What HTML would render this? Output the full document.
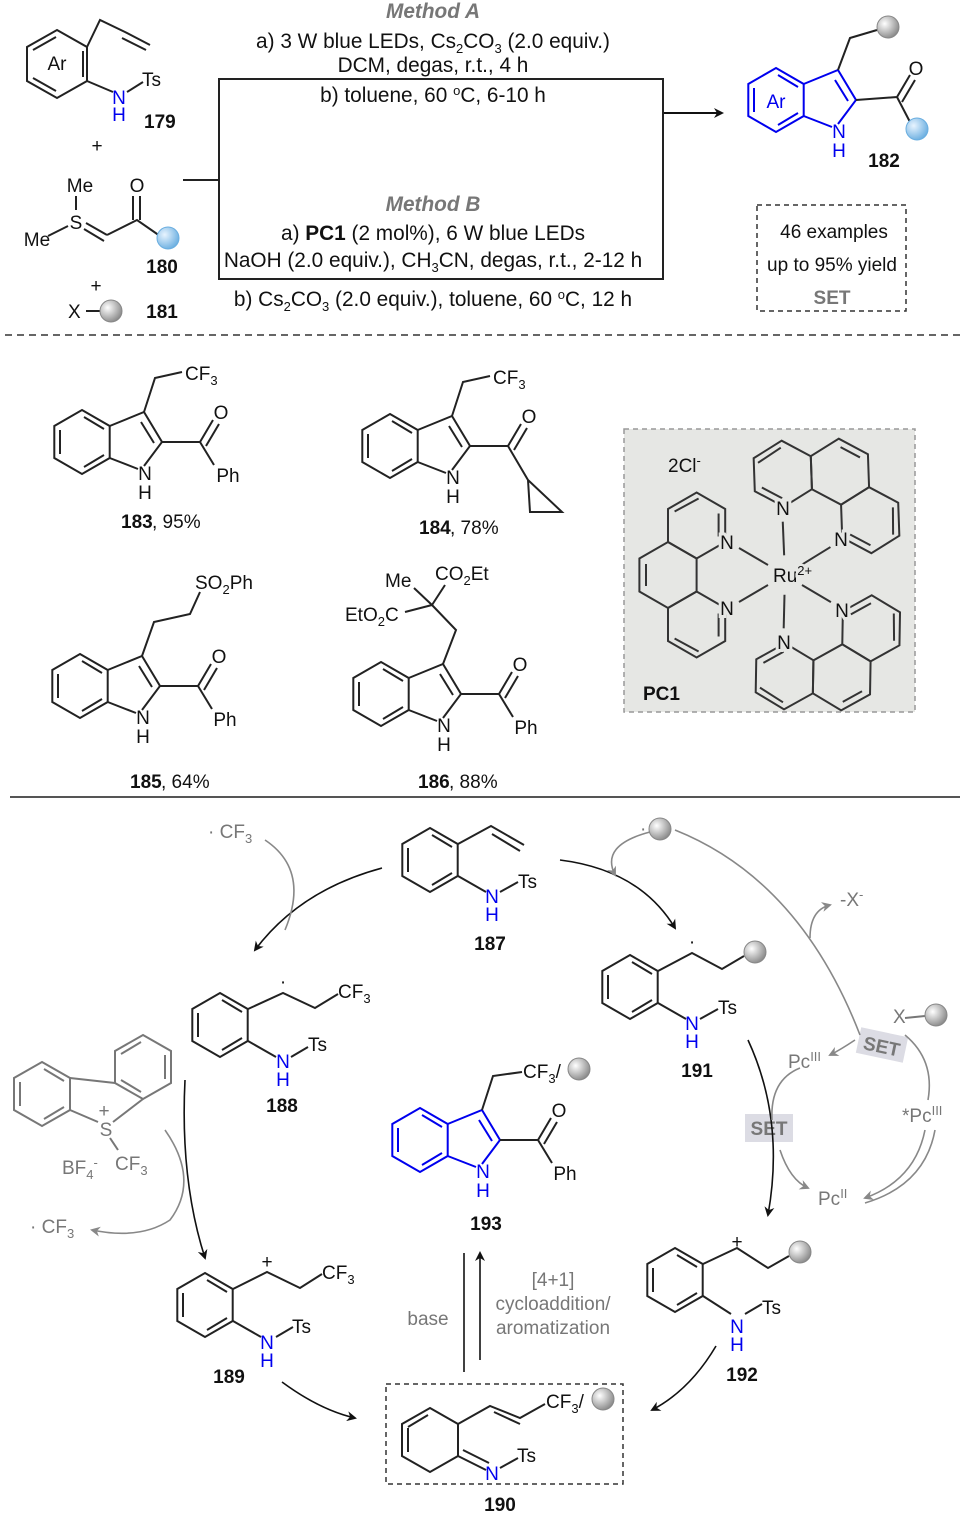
<!DOCTYPE html>
<html><head><meta charset="utf-8"><style>
html,body{margin:0;padding:0;background:#fff}
svg{display:block}
text{font-family:"Liberation Sans",Arial,sans-serif;font-size:19px;fill:#111}
.b{font-weight:bold}
.g{fill:#777}
.bl{fill:#0000ee}
.m{text-anchor:middle}
.t{font-size:20.8px}
.pn{paint-order:stroke;stroke:#e6e7e4;stroke-width:6px;text-anchor:middle}
</style></head><body>
<svg width="965" height="1515" viewBox="0 0 965 1515" xmlns="http://www.w3.org/2000/svg">
<defs>
<g id="bz" fill="none" stroke="#222" stroke-width="2">
<polygon points="0,-32 27.7,-16 27.7,16 0,32 -27.7,16 -27.7,-16"/>
<line x1="2" y1="-25" x2="22" y2="-13"/><line x1="22" y1="13" x2="2" y2="25"/><line x1="-22" y1="12" x2="-22" y2="-12"/>
</g>
<g id="bzb" fill="none" stroke="#0000ee" stroke-width="2">
<polygon points="0,-32 27.7,-16 27.7,16 0,32 -27.7,16 -27.7,-16"/>
<line x1="2" y1="-25" x2="22" y2="-13"/><line x1="22" y1="13" x2="2" y2="25"/><line x1="-22" y1="12" x2="-22" y2="-12"/>
</g>
<g id="ind">
<use href="#bz"/>
<polyline points="27.7,-16 62,-30 80,0 62,24" fill="none" stroke="#222" stroke-width="2"/>
<line x1="27.7" y1="16" x2="56" y2="27" stroke="#222" stroke-width="2"/>
<line x1="59" y1="-20" x2="72" y2="1" stroke="#222" stroke-width="2"/>
<text x="63" y="38" class="m">N</text><text x="63" y="57" class="m">H</text>
</g>
<g id="indb">
<use href="#bzb"/>
<polyline points="27.7,-16 62,-30 80,0 62,24" fill="none" stroke="#0000ee" stroke-width="2"/>
<line x1="27.7" y1="16" x2="56" y2="27" stroke="#0000ee" stroke-width="2"/>
<line x1="59" y1="-20" x2="72" y2="1" stroke="#0000ee" stroke-width="2"/>
<text x="63" y="38" class="m bl">N</text><text x="63" y="57" class="m bl">H</text>
</g>
<g id="phen" fill="none" stroke="#333" stroke-width="2">
<g transform="translate(0,-117)">
<polygon points="33,0 16.5,28.6 -16.5,28.6 -33,0 -16.5,-28.6 16.5,-28.6"/>
<line x1="-11" y1="-22" x2="11" y2="-22"/>
<g transform="translate(-49.5,28.6)"><polygon points="33,0 16.5,28.6 -16.5,28.6 -33,0 -16.5,-28.6 16.5,-28.6"/><line x1="-27" y1="2" x2="-14" y2="-22"/><line x1="-12" y1="22" x2="11" y2="22"/></g>
<g transform="translate(49.5,28.6)"><polygon points="33,0 16.5,28.6 -16.5,28.6 -33,0 -16.5,-28.6 16.5,-28.6"/><line x1="27" y1="2" x2="14" y2="-22"/><line x1="12" y1="22" x2="-11" y2="22"/></g>
</g>
<line x1="-10" y1="-17" x2="-27" y2="-46"/><line x1="10" y1="-17" x2="27" y2="-46"/>
</g>
<radialGradient id="gb" cx="35%" cy="35%" r="70%"><stop offset="0" stop-color="#fff"/><stop offset="1" stop-color="#888"/></radialGradient>
<radialGradient id="bb" cx="35%" cy="35%" r="70%"><stop offset="0" stop-color="#e8f4ff"/><stop offset="1" stop-color="#6aaee0"/></radialGradient>
<marker id="ah" markerWidth="10" markerHeight="10" refX="8" refY="5" orient="auto" markerUnits="userSpaceOnUse"><path d="M0,0 L10,5 L0,10 L3,5z" fill="#111"/></marker>
<marker id="ahg" markerWidth="10" markerHeight="10" refX="8" refY="5" orient="auto" markerUnits="userSpaceOnUse"><path d="M0,0 L10,5 L0,10 L3,5z" fill="#888"/></marker>
</defs>

<g stroke="#222" stroke-width="2" fill="none">
<polygon points="57,30 87,47 87,81 57,98 27,81 27,47"/>
<line x1="83" y1="51" x2="83" y2="77"/><line x1="56" y1="37" x2="33" y2="50"/><line x1="56" y1="91" x2="33" y2="78"/>
<polyline points="87,47 100,20 125,32 150,45"/><line x1="122" y1="38" x2="146" y2="50"/>
<line x1="87" y1="81" x2="113" y2="92"/><line x1="127" y1="92" x2="143" y2="82"/>
<line x1="76" y1="196" x2="76" y2="210"/><line x1="48" y1="236" x2="68" y2="226"/>
<line x1="86" y1="223" x2="107" y2="235"/><line x1="84" y1="229" x2="104" y2="241"/>
<polyline points="107,235 137,220 160,236"/><line x1="133" y1="196" x2="133" y2="220"/><line x1="140" y1="196" x2="140" y2="220"/>
<line x1="86" y1="311" x2="100" y2="311"/>
<rect x="219" y="79" width="444" height="200"/>
<line x1="183" y1="180" x2="219" y2="180"/>
</g>
<line x1="664" y1="113" x2="722" y2="113" stroke="#111" stroke-width="2" marker-end="url(#ah)"/>
<text x="57" y="70" class="m">Ar</text>
<text x="119" y="104" class="m bl">N</text><text x="119" y="121" class="m bl">H</text>
<text x="142" y="86">Ts</text>
<text x="144" y="128" class="b">179</text>
<text x="97" y="152" class="m">+</text>
<text x="80" y="192" class="m">Me</text><text x="37" y="246" class="m">Me</text><text x="76" y="229" class="m">S</text>
<text x="137" y="192" class="m">O</text>
<circle cx="168" cy="238" r="11" fill="url(#bb)" stroke="#6aaee0"/>
<text x="162" y="273" class="b m">180</text>
<text x="96" y="292" class="m">+</text>
<text x="68" y="318">X</text>
<circle cx="111" cy="311" r="11" fill="url(#gb)" stroke="#888"/>
<text x="162" y="318" class="b m">181</text>

<text x="433" y="18" class="m b g t" font-style="italic">Method A</text>
<text x="433" y="48" class="m t">a) 3 W blue LEDs, Cs<tspan font-size="13" dy="5">2</tspan><tspan dy="-5">CO</tspan><tspan font-size="13" dy="5">3</tspan><tspan dy="-5"> (2.0 equiv.)</tspan></text>
<text x="433" y="72" class="m t">DCM, degas, r.t., 4 h</text>
<text x="433" y="102" class="m t">b) toluene, 60 <tspan font-size="13" dy="-7">o</tspan><tspan dy="7">C, 6-10 h</tspan></text>
<text x="433" y="211" class="m b g t" font-style="italic">Method B</text>
<text x="433" y="240" class="m t">a) <tspan font-weight="bold">PC1</tspan> (2 mol%), 6 W blue LEDs</text>
<text x="433" y="267" class="m t">NaOH (2.0 equiv.), CH<tspan font-size="13" dy="5">3</tspan><tspan dy="-5">CN, degas, r.t., 2-12 h</tspan></text>
<text x="433" y="306" class="m t">b) Cs<tspan font-size="13" dy="5">2</tspan><tspan dy="-5">CO</tspan><tspan font-size="13" dy="5">3</tspan><tspan dy="-5"> (2.0 equiv.), toluene, 60 </tspan><tspan font-size="13" dy="-7">o</tspan><tspan dy="7">C, 12 h</tspan></text>

<g transform="translate(776,100)"><use href="#indb"/></g>
<text x="776" y="108" class="m bl">Ar</text>
<g stroke="#222" stroke-width="2" fill="none"><polyline points="838,70 850,38 877,30"/><polyline points="856,100 897,97 910,75"/><line x1="902" y1="102" x2="915" y2="80"/><line x1="897" y1="97" x2="910" y2="122"/></g>
<circle cx="888" cy="27" r="11" fill="url(#gb)" stroke="#888"/>
<circle cx="917" cy="129" r="11" fill="url(#bb)" stroke="#6aaee0"/>
<text x="916" y="75" class="m">O</text>
<text x="884" y="167" class="b m">182</text>
<rect x="757" y="205" width="149" height="106" fill="none" stroke="#333" stroke-width="1.5" stroke-dasharray="5,4"/>
<text x="834" y="238" class="m">46 examples</text>
<text x="832" y="271" class="m">up to 95% yield</text>
<text x="832" y="304" class="m b g">SET</text>
<line x1="5" y1="335" x2="960" y2="335" stroke="#333" stroke-width="1.5" stroke-dasharray="7,5"/>

<g transform="translate(82,442)"><use href="#ind"/></g>
<g stroke="#222" stroke-width="2" fill="none"><polyline points="144,412 155,378 182,372"/><polyline points="162,442 200,442 213,420"/><line x1="206" y1="446" x2="219" y2="424"/><line x1="200" y1="442" x2="214" y2="465"/></g>
<text x="185" y="380">CF<tspan font-size="13" dy="5">3</tspan></text><text x="221" y="419" class="m">O</text><text x="228" y="482" class="m">Ph</text>
<text x="121" y="528" class="b">183</text><text x="152" y="528">, 95%</text>
<g transform="translate(390,446)"><use href="#ind"/></g>
<g stroke="#222" stroke-width="2" fill="none"><polyline points="452,416 463,382 490,376"/><polyline points="470,446 508,446 521,424"/><line x1="514" y1="450" x2="527" y2="428"/><polyline points="508,446 528,480 562,512 530,512 528,480"/></g>
<text x="493" y="384">CF<tspan font-size="13" dy="5">3</tspan></text><text x="529" y="423" class="m">O</text>
<text x="419" y="534" class="b">184</text><text x="450" y="534">, 78%</text>
<g transform="translate(80,686)"><use href="#ind"/></g>
<g stroke="#222" stroke-width="2" fill="none"><polyline points="142,656 154,622 190,614 200,592"/><polyline points="160,686 198,686 211,664"/><line x1="204" y1="690" x2="217" y2="668"/><line x1="198" y1="686" x2="212" y2="709"/></g>
<text x="195" y="589">SO<tspan font-size="13" dy="5">2</tspan><tspan dy="-5">Ph</tspan></text><text x="219" y="663" class="m">O</text><text x="225" y="726" class="m">Ph</text>
<text x="130" y="788" class="b">185</text><text x="161" y="788">, 64%</text>
<g transform="translate(381,694)"><use href="#ind"/></g>
<g stroke="#222" stroke-width="2" fill="none"><polyline points="443,664 456,630 432,605"/><line x1="432" y1="605" x2="445" y2="585"/><line x1="432" y1="605" x2="414" y2="588"/><line x1="432" y1="605" x2="405" y2="612"/><polyline points="461,694 499,694 512,672"/><line x1="505" y1="698" x2="518" y2="676"/><line x1="499" y1="694" x2="513" y2="717"/></g>
<text x="385" y="587">Me</text><text x="435" y="580">CO<tspan font-size="13" dy="5">2</tspan><tspan dy="-5">Et</tspan></text>
<text x="345" y="621">EtO<tspan font-size="13" dy="5">2</tspan><tspan dy="-5">C</tspan></text>
<text x="520" y="671" class="m">O</text><text x="526" y="734" class="m">Ph</text>
<text x="418" y="788" class="b">186</text><text x="449" y="788">, 88%</text>

<rect x="624" y="429" width="291" height="283" fill="#e6e7e4" stroke="#999" stroke-width="1.5" stroke-dasharray="5,4"/>
<text x="668" y="472">2Cl<tspan font-size="13" dy="-7">-</tspan></text>
<g transform="translate(785,575)">
<g transform="rotate(-90)"><use href="#phen"/></g>
<g transform="rotate(28)"><use href="#phen"/></g>
<g transform="rotate(151)"><use href="#phen"/></g>
</g>
<text x="727" y="549" class="pn">N</text><text x="727" y="615" class="pn">N</text>
<text x="783" y="515" class="pn">N</text><text x="841" y="546" class="pn">N</text>
<text x="842" y="617" class="pn">N</text><text x="784" y="649" class="pn">N</text>
<text x="773" y="582" style="paint-order:stroke;stroke:#e6e7e4;stroke-width:5px">Ru<tspan font-size="13" dy="-7">2+</tspan></text>
<text x="643" y="700" class="b">PC1</text>
<line x1="10" y1="797" x2="960" y2="797" stroke="#555" stroke-width="2"/>

<g transform="translate(430,860)"><use href="#bz"/></g>
<g stroke="#222" stroke-width="2" fill="none"><polyline points="458,844 491,826 524,845"/><line x1="492" y1="834" x2="520" y2="851"/><line x1="458" y1="876" x2="486" y2="892"/><line x1="500" y1="892" x2="518" y2="882"/></g>
<text x="492" y="903" class="m bl">N</text><text x="492" y="921" class="m bl">H</text><text x="518" y="888">Ts</text>
<text x="490" y="950" class="b m">187</text>
<g transform="translate(220,1025)"><use href="#bz"/></g>
<g stroke="#222" stroke-width="2" fill="none"><polyline points="248,1009 283,993 315,1008 338,994"/><line x1="248" y1="1041" x2="276" y2="1057"/><line x1="291" y1="1057" x2="308" y2="1047"/></g>
<text x="283" y="988" class="m">·</text><text x="338" y="998">CF<tspan font-size="13" dy="5">3</tspan></text>
<text x="283" y="1068" class="m bl">N</text><text x="283" y="1086" class="m bl">H</text><text x="308" y="1051">Ts</text>
<text x="282" y="1112" class="b m">188</text>
<g transform="translate(630,987)"><use href="#bz"/></g>
<g stroke="#222" stroke-width="2" fill="none"><polyline points="658,971 692,953 722,969 744,956"/><line x1="658" y1="1003" x2="686" y2="1019"/><line x1="700" y1="1019" x2="718" y2="1009"/></g>
<text x="692" y="948" class="m">·</text><circle cx="755" cy="952" r="11" fill="url(#gb)" stroke="#888"/>
<text x="692" y="1030" class="m bl">N</text><text x="692" y="1048" class="m bl">H</text><text x="718" y="1014">Ts</text>
<text x="697" y="1077" class="b m">191</text>
<g transform="translate(420,1140)"><use href="#indb"/></g>
<g stroke="#222" stroke-width="2" fill="none"><polyline points="482,1110 493,1076 522,1072"/><polyline points="500,1140 538,1140 551,1118"/><line x1="544" y1="1144" x2="557" y2="1122"/><line x1="538" y1="1140" x2="552" y2="1163"/></g>
<text x="523" y="1078">CF<tspan font-size="13" dy="5">3</tspan><tspan dy="-5">/</tspan></text><circle cx="579" cy="1069" r="11" fill="url(#gb)" stroke="#888"/>
<text x="559" y="1117" class="m">O</text><text x="565" y="1180" class="m">Ph</text>
<text x="486" y="1230" class="b m">193</text>
<g transform="translate(205,1305)"><use href="#bz"/></g>
<g stroke="#222" stroke-width="2" fill="none"><polyline points="233,1289 267,1272 300,1288 322,1274"/><line x1="233" y1="1321" x2="261" y2="1337"/><line x1="276" y1="1337" x2="293" y2="1327"/></g>
<text x="267" y="1268" class="m" font-size="15">+</text><text x="322" y="1279">CF<tspan font-size="13" dy="5">3</tspan></text>
<text x="267" y="1349" class="m bl">N</text><text x="267" y="1367" class="m bl">H</text><text x="292" y="1333">Ts</text>
<text x="229" y="1383" class="b m">189</text>
<g transform="translate(675,1280)"><use href="#bz"/></g>
<g stroke="#222" stroke-width="2" fill="none"><polyline points="703,1264 737,1248 768,1268 789,1256"/><line x1="703" y1="1296" x2="731" y2="1314"/><line x1="745" y1="1314" x2="762" y2="1304"/></g>
<text x="737" y="1248" class="m" font-size="15">+</text><circle cx="800" cy="1252" r="11" fill="url(#gb)" stroke="#888"/>
<text x="737" y="1333" class="m bl">N</text><text x="737" y="1351" class="m bl">H</text><text x="762" y="1314">Ts</text>
<text x="742" y="1381" class="b m">192</text>
<rect x="386" y="1384" width="237" height="100" fill="none" stroke="#333" stroke-width="1.5" stroke-dasharray="5,4"/>
<g stroke="#222" stroke-width="2" fill="none"><polygon points="430,1408 458,1424 458,1456 430,1472 402,1456 402,1424"/><line x1="408" y1="1428" x2="408" y2="1452"/><line x1="428" y1="1415" x2="408" y2="1427"/>
<polyline points="458,1424 490,1406 520,1418 545,1404"/><line x1="494" y1="1412" x2="520" y2="1424"/>
<line x1="458" y1="1456" x2="486" y2="1470"/><line x1="463" y1="1450" x2="489" y2="1463"/><line x1="500" y1="1468" x2="518" y2="1458"/></g>
<text x="546" y="1408">CF<tspan font-size="13" dy="5">3</tspan><tspan dy="-5">/</tspan></text><circle cx="603" cy="1399" r="11" fill="url(#gb)" stroke="#888"/>
<text x="492" y="1480" class="m bl">N</text><text x="517" y="1462">Ts</text>
<text x="500" y="1511" class="b m">190</text>
<g stroke="#777" stroke-width="2" fill="none">
<polygon points="42,1062 70,1078 70,1110 42,1126 14,1110 14,1078"/><line x1="20" y1="1082" x2="20" y2="1106"/><line x1="44" y1="1069" x2="64" y2="1081"/><line x1="44" y1="1119" x2="64" y2="1107"/>
<polygon points="143,1035 171,1051 171,1083 143,1099 115,1083 115,1051"/><line x1="165" y1="1055" x2="165" y2="1079"/><line x1="141" y1="1042" x2="121" y2="1054"/><line x1="141" y1="1092" x2="121" y2="1080"/>
<line x1="70" y1="1078" x2="115" y2="1083"/><line x1="70" y1="1110" x2="98" y2="1122"/><line x1="143" y1="1099" x2="113" y2="1122"/><line x1="110" y1="1138" x2="118" y2="1150"/>
</g>
<text x="106" y="1136" class="m g">S</text><text x="104" y="1117" class="m g" font-size="14">+</text>
<text x="62" y="1174" class="g">BF<tspan font-size="13" dy="5">4</tspan><tspan font-size="13" dy="-12">-</tspan></text>
<text x="115" y="1170" class="g">CF<tspan font-size="13" dy="5">3</tspan></text>
<text x="30" y="1233" class="g">· CF<tspan font-size="13" dy="5">3</tspan></text>
<text x="208" y="838" class="g">· CF<tspan font-size="13" dy="5">3</tspan></text>
<text x="640" y="835" class="g">·</text><circle cx="660" cy="829" r="11" fill="url(#gb)" stroke="#888"/>
<text x="840" y="906" class="g">-X<tspan font-size="13" dy="-7">-</tspan></text>
<text x="893" y="1023" class="g">X</text><line x1="905" y1="1018" x2="925" y2="1016" stroke="#777" stroke-width="2"/><circle cx="936" cy="1015" r="11" fill="url(#gb)" stroke="#888"/>
<rect x="858" y="1032" width="48" height="26" fill="#dcdce4" transform="rotate(12 882 1045)"/>
<text x="882" y="1053" class="m b g" transform="rotate(12 882 1045)">SET</text>
<rect x="745" y="1114" width="48" height="28" fill="#dcdce4"/>
<text x="769" y="1135" class="m b g">SET</text>
<text x="788" y="1068" class="g">Pc<tspan font-size="13" dy="-7">III</tspan></text>
<text x="902" y="1122" class="g">*Pc<tspan font-size="13" dy="-7">III</tspan></text>
<text x="818" y="1205" class="g">Pc<tspan font-size="13" dy="-7">II</tspan></text>
<text x="428" y="1325" class="m g">base</text>
<text x="553" y="1286" class="m g">[4+1]</text><text x="553" y="1310" class="m g">cycloaddition/</text><text x="553" y="1334" class="m g">aromatization</text>

<g fill="none" stroke-width="1.6">
<path d="M382,868 Q300,890 255,950" stroke="#111" marker-end="url(#ah)"/>
<path d="M265,840 Q310,870 285,930" stroke="#888"/>
<path d="M560,860 Q640,870 675,928" stroke="#111" marker-end="url(#ah)"/>
<path d="M650,832 Q600,845 615,875" stroke="#888" marker-end="url(#ahg)"/>
<path d="M185,1080 Q180,1180 205,1258" stroke="#111" marker-end="url(#ah)"/>
<path d="M165,1130 Q200,1180 170,1220 Q140,1240 92,1230" stroke="#888" marker-end="url(#ahg)"/>
<path d="M748,1040 Q785,1120 768,1215" stroke="#111" marker-end="url(#ah)"/>
<path d="M780,1150 Q790,1180 808,1188" stroke="#888" marker-end="url(#ahg)"/>
<path d="M800,1068 Q770,1080 772,1120" stroke="#888"/>
<path d="M282,1382 Q320,1410 355,1418" stroke="#111" marker-end="url(#ah)"/>
<path d="M716,1346 Q690,1390 652,1410" stroke="#111" marker-end="url(#ah)"/>
<line x1="464" y1="1372" x2="464" y2="1253" stroke="#111"/>
<line x1="480" y1="1360" x2="480" y2="1253" stroke="#111" marker-end="url(#ah)"/>
<path d="M675,830 Q800,880 860,1035" stroke="#888"/>
<path d="M810,938 Q810,910 830,905" stroke="#888" marker-end="url(#ahg)"/>
<path d="M855,1040 Q840,1050 830,1055" stroke="#888" marker-end="url(#ahg)"/>
<path d="M905,1035 Q935,1060 928,1100" stroke="#888"/>
<path d="M925,1130 Q915,1180 865,1198" stroke="#888" marker-end="url(#ahg)"/>
<path d="M935,1130 Q925,1185 865,1203" stroke="#888"/>
</g>
</svg>
</body></html>
